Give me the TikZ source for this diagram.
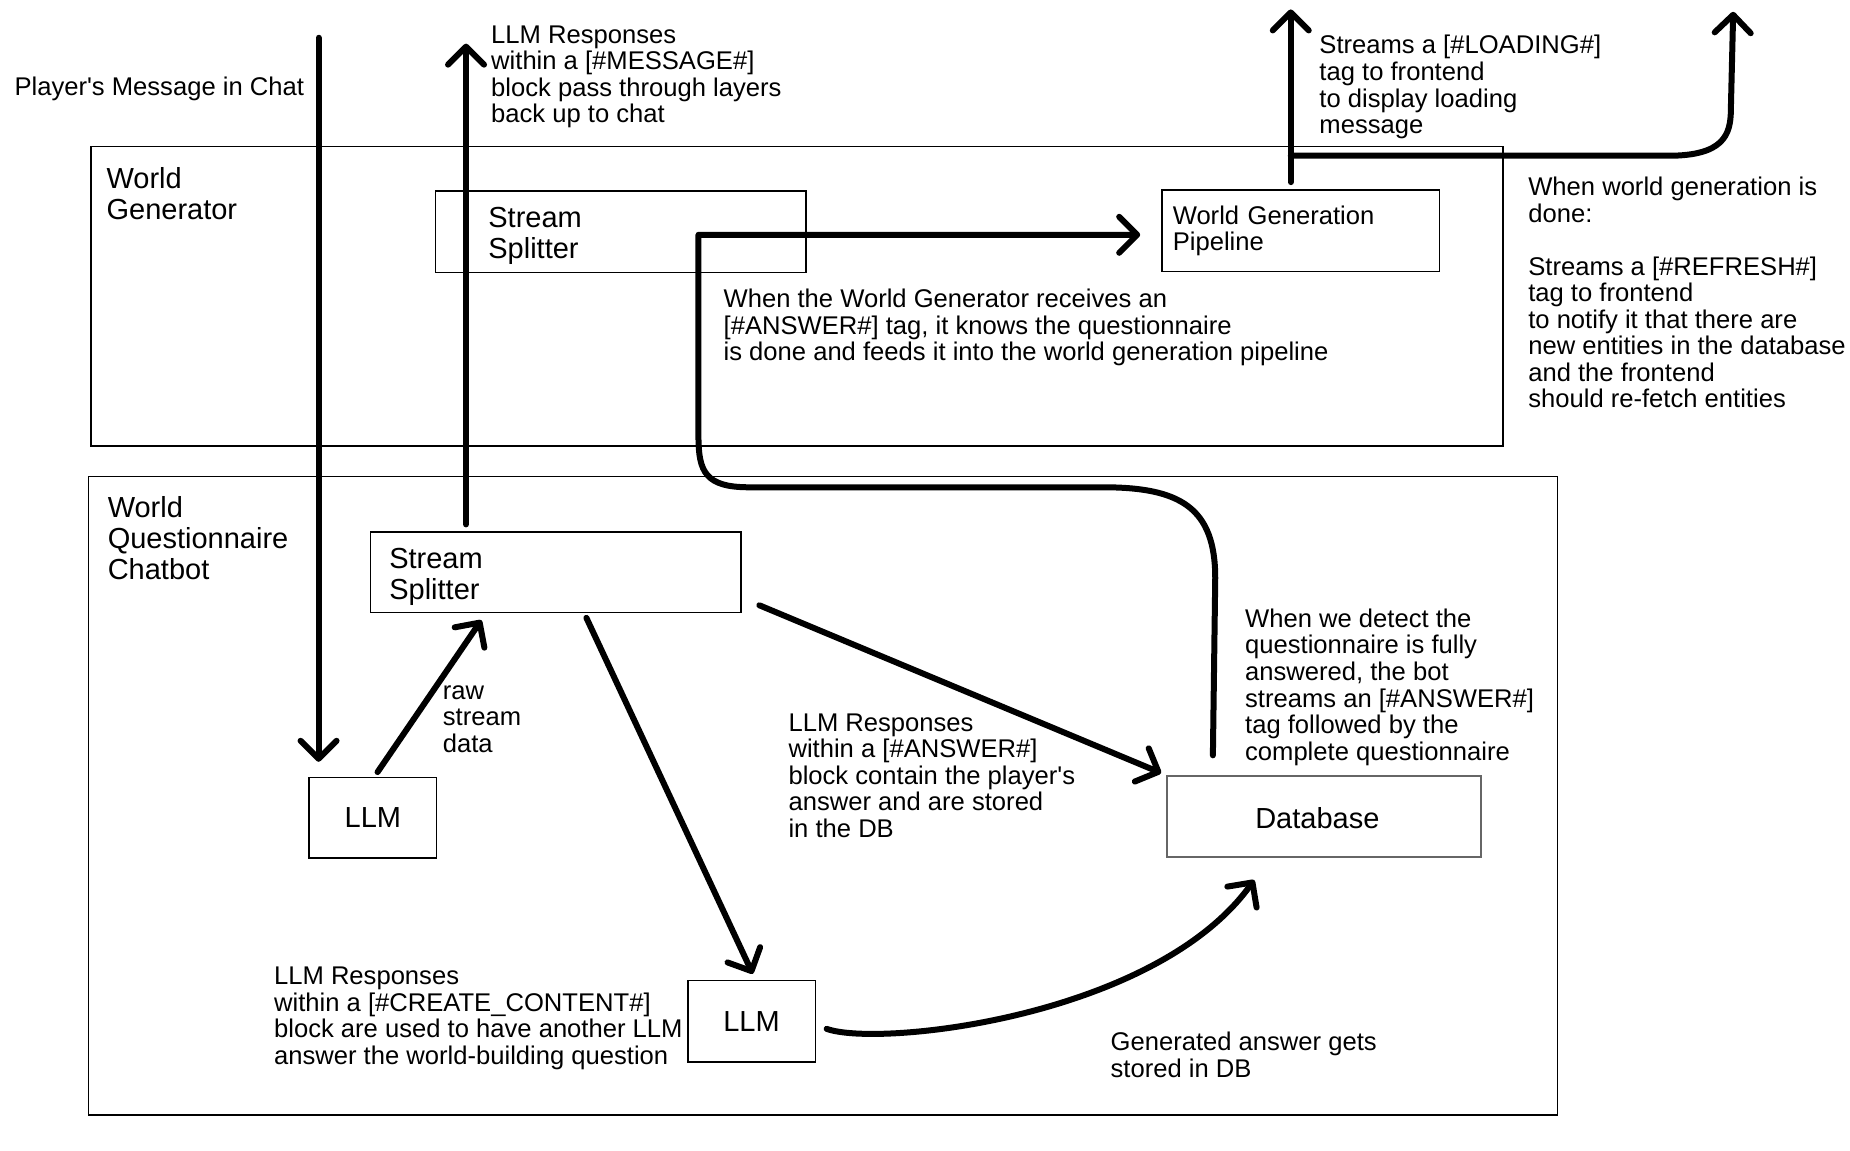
\documentclass[tikz,border=0pt]{standalone}
\usepackage{fontspec}
\setmainfont{Liberation Sans}[Ligatures=TeXOff]
\usetikzlibrary{arrows.meta,calc,fit}
\begin{document}
\begin{tikzpicture}[x=0.58992pt, y=-0.58992pt,
  sm/.style={font=\fontsize{12.8}{13.27}\selectfont},
  bg/.style={font=\fontsize{14.5}{15.34}\selectfont},
  txt/.style={sm, align=left, inner sep=0pt, anchor=north west},
  frame/.style={draw, line width=0.75pt, inner sep=0pt},
  box/.style={draw, line width=0.75pt, inner ysep=0pt, align=left},
  arr/.style={line width=3pt, line cap=round, line join=round, -{Straight Barb[length=9pt,width=18pt,round]}}]
\useasboundingbox (0,0) rectangle (1568,974.7);

% frames
\node[frame, fit={(77,124) (1274,378)}] (wg) {};
\node[frame, fit={(75,404) (1320,945)}] (wq) {};
\node[txt, bg] (wglbl) at (90,141.3) {\strut World\\Generator};
\node[txt, bg] (wqlbl) at (91,420.3) {\strut World\\Questionnaire\\Chatbot};

% boxes
\node[box, bg, minimum width=185.2pt, minimum height=40.7pt, text width=132.2pt, inner xsep=26.5pt] (ss1) at (526,196.5) {\rule{0pt}{14pt}Stream\\Splitter};
\node[box, sm, minimum width=138.6pt, minimum height=40.7pt, text width=128pt, inner xsep=5.3pt] (wgp) at (1102.5,195.5) {World Generation\\Pipeline};
\node[box, bg, minimum width=185.2pt, minimum height=40.1pt, text width=166.4pt, inner xsep=9.4pt] (ss2) at (471,485) {\rule{0pt}{14.5pt}Stream\\Splitter};
\node[box, bg, minimum width=63.7pt, minimum height=40.1pt] (llm1) at (316,693) {LLM};
\node[box, bg, minimum width=63.7pt, minimum height=40.7pt] (llm2) at (637,865.5) {LLM};
\node[box, bg, draw=black!60, line width=1pt, minimum width=156.9pt, minimum height=40.1pt, text width=68.5pt, inner xsep=44.2pt] (db) at (1122,692) {\rule{0pt}{12pt}Database};

% texts
\node[txt] (pmsg) at (12,64.65) {\strut Player's Message in Chat};
\node[txt] (msgtxt) at (416,20.65) {\strut LLM Responses\\within a [\#MESSAGE\#]\\block pass through layers\\back up to chat};
\node[txt] (loadtxt) at (1118,29.65) {\strut Streams a [\#LOADING\#]\\tag to frontend\\to display loading\\message};
\node[txt] (reftxt) at (1295,149.65) {\strut When world generation is\\done:\\[13.27pt]Streams a [\#REFRESH\#]\\tag to frontend\\to notify it that there are\\new entities in the database\\and the frontend\\should re-fetch entities};
\node[txt] (wgtxt) at (613,244.65) {\strut When the World Generator receives an\\{[}\#ANSWER\#] tag, it knows the questionnaire\\is done and feeds it into the world generation pipeline};
\node[txt] (rawtxt) at (375,576.65) {\strut raw\\stream\\data};
\node[txt] (anstxt) at (668,603.65) {\strut LLM Responses\\within a [\#ANSWER\#]\\block contain the player's\\answer and are stored\\in the DB};
\node[txt] (dettxt) at (1055,515.65) {\strut When we detect the\\questionnaire is fully\\answered, the bot\\streams an [\#ANSWER\#]\\tag followed by the\\complete questionnaire};
\node[txt] (cctxt) at (232,818.65) {\strut LLM Responses\\within a [\#CREATE\_CONTENT\#]\\block are used to have another LLM\\answer the world-building question};
\node[txt] (gentxt) at (941,874.65) {\strut Generated answer gets\\stored in DB};

% connectors
\coordinate (pmtop) at (270,32);
\draw[arr, shorten >=7.5pt] (pmtop) -- (pmtop |- llm1.north);
\coordinate (msgtop) at (395,37);
\draw[arr, shorten <=3.5pt] (msgtop |- ss2.north) -- (msgtop);
\draw[arr] ($(llm1.north)+(4,-4)$) -- ($(ss2.south)+(-63,6)$);
\draw[arr] ($(ss2.south)+(26,4)$) -- ($(llm2.north)+(1,-5)$);
\draw[arr] ($(ss2.east)+(15,28)$) -- ($(db.north west)+(-4,-2)$);
\draw[arr] ($(llm2.east)+(9,6.5)$) .. controls (745,888) and (980,862) .. ($(db.south)+(-59,19)$);
\draw[arr] ($(db.north)+(-94,-17)$) -- (1030,490) .. controls (1030,430) and (1000,413) .. (935,413) -- (635,413) .. controls (598,413) and (592,400) .. (592,370) -- (592,199) -- ($(wgp.west)+(-18,3.5)$);
\coordinate (loadtop) at (1094,8);
\draw[arr] ($(wgp.north)+(-8.5,-6)$) -- (loadtop);
\coordinate (branch) at (1094,132);
\coordinate (reftop) at (1469,10);
\draw[arr] (branch) -- (1414,132) .. controls (1460,132) and (1467,115) .. (1467,93) -- (reftop);
\end{tikzpicture}
\end{document}
